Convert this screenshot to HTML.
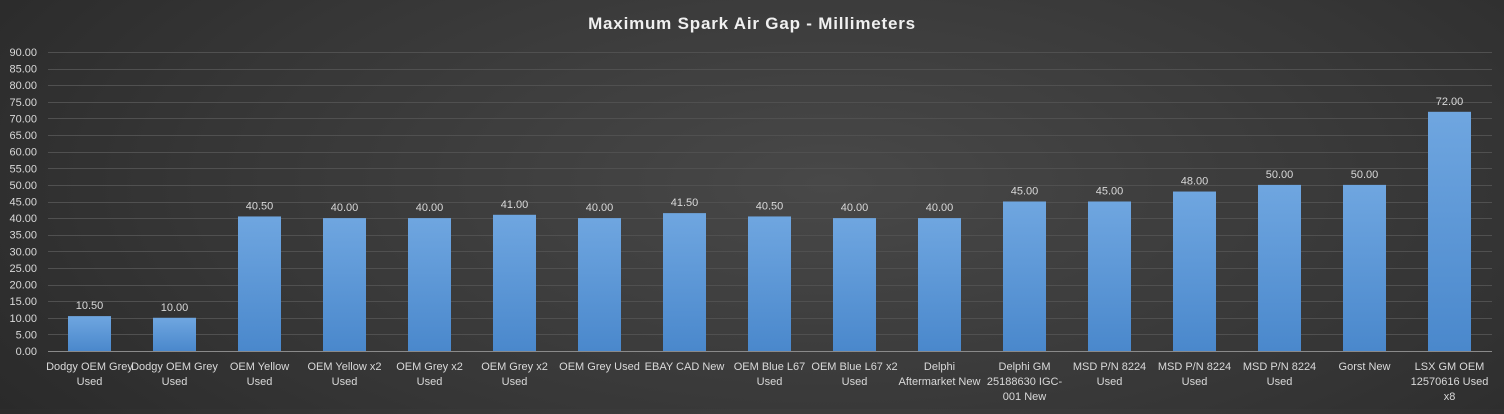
<!DOCTYPE html>
<html><head><style>
html,body{margin:0;padding:0;}
body{width:1504px;height:409px;overflow:hidden;background:radial-gradient(ellipse 75% 120% at 55% 45%,#484848 0%,#363636 55%,#252525 100%);font-family:"Liberation Sans",sans-serif;}
</style></head><body>
<svg width="1504" height="409" xmlns="http://www.w3.org/2000/svg">
<defs><linearGradient id="g" x1="0" y1="0" x2="0" y2="1"><stop offset="0" stop-color="#6fa6e0"/><stop offset="1" stop-color="#4a88cc"/></linearGradient></defs>
<text x="752" y="29" text-anchor="middle" fill="#f0f0f0" font-size="17" font-weight="bold" letter-spacing="0.8">Maximum  Spark  Air  Gap  -  Millimeters</text>
<g id="grid" stroke="#505050" stroke-width="1"></g>
<g id="ylab" fill="#d9d9d9" font-size="11" text-anchor="end"></g>
<g id="bars"></g>
<line x1="48" y1="351.5" x2="1492" y2="351.5" stroke="#8a8a8a"/>
</svg>
<script>
const ns="http://www.w3.org/2000/svg";
function el(p,t,a,txt){const e=document.createElementNS(ns,t);for(const k in a)e.setAttribute(k,a[k]);if(txt!=null)e.textContent=txt;document.querySelector(p).appendChild(e);return e;}
const y0=351,sc=299/90;
for(let v=5;v<=90;v+=5){const y=Math.round(y0-v*sc)+0.5;el('#grid','line',{x1:48,y1:y,x2:1492,y2:y});}
for(let v=0;v<=90;v+=5){el('#ylab','text',{x:37,y:y0-v*sc+4},v.toFixed(2));}
const d=[["Dodgy OEM Grey|Used",10.5],["Dodgy OEM Grey|Used",10],["OEM Yellow|Used",40.5],["OEM Yellow x2|Used",40],["OEM Grey x2|Used",40],["OEM Grey x2|Used",41],["OEM Grey Used",40],["EBAY CAD New",41.5],["OEM Blue L67|Used",40.5],["OEM Blue L67 x2|Used",40],["Delphi|Aftermarket New",40],["Delphi  GM|25188630 IGC-|001 New",45],["MSD P/N 8224|Used",45],["MSD P/N 8224|Used",48],["MSD P/N 8224|Used",50],["Gorst New",50],["LSX GM OEM|12570616 Used|x8",72]];
d.forEach((r,i)=>{const cx=89.5+i*85,h=r[1]*sc;
el('#bars','rect',{x:cx-21.5,y:y0-h,width:43,height:h,fill:'url(#g)'});
el('#bars','text',{x:cx,y:y0-h-7,fill:'#d9d9d9','font-size':11,'text-anchor':'middle'},r[1].toFixed(2));
r[0].split('|').forEach((l,j)=>el('#bars','text',{x:cx,y:370+j*15,fill:'#d9d9d9','font-size':11,'text-anchor':'middle','xml:space':'preserve'},l));});
</script>
</body></html>
